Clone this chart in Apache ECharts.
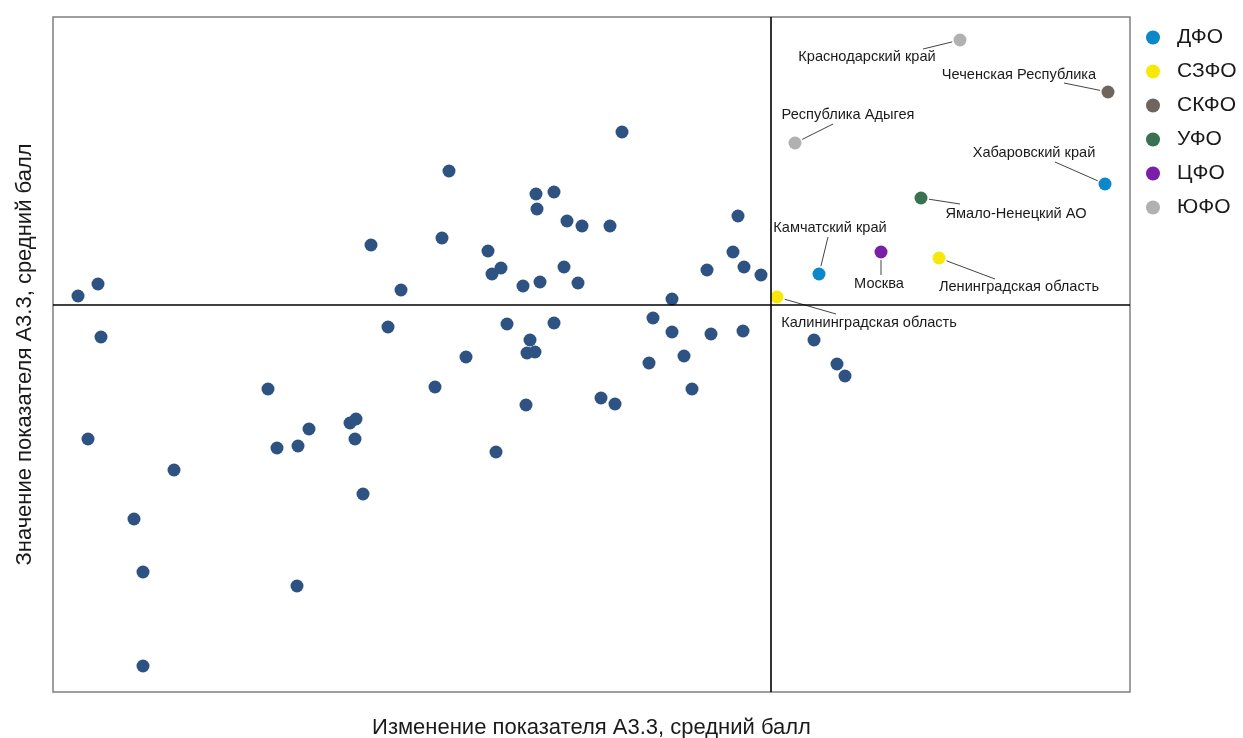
<!DOCTYPE html>
<html><head><meta charset="utf-8">
<script src="https://cdn.jsdelivr.net/npm/echarts@6/dist/echarts.min.js"></script>
<style>html,body{margin:0;padding:0;background:#fff}#c{width:1243px;height:738px}</style>
</head><body><div id="c"></div>
<script>
// Axis titles
const xTitle = 'Изменение показателя А3.3, средний балл';
const yTitle = 'Значение показателя А3.3, средний балл';
// Federal districts (legend)
const districts = ['ДФО', 'СЗФО', 'СКФО', 'УФО', 'ЦФО', 'ЮФО'];
// Highlighted regions: name, district, change (x), value (y)
const regionNames = ['Краснодарский край', 'Чеченская Республика', 'Республика Адыгея', 'Хабаровский край', 'Ямало-Ненецкий АО', 'Москва', 'Ленинградская область', 'Камчатский край', 'Калининградская область'];
const regionDistricts = ['ЮФО', 'СКФО', 'ЮФО', 'ДФО', 'УФО', 'ЦФО', 'СЗФО', 'ДФО', 'СЗФО'];
const regionX = [1.89, 3.37, 0.24, 3.34, 1.50, 1.10, 1.68, 0.48, 0.06];
const regionY = [2.65, 2.13, 1.62, 1.21, 1.07, 0.53, 0.47, 0.31, 0.08];
// Other regions (unlabelled)
const otherX = [-6.93, -6.73, -6.70, -4.00, -3.70, -3.83, -1.49, -3.22, -2.35, -2.17, -2.34, -2.04, -1.89, -1.61, -0.33, -3.29, -2.83, -2.79, -2.70, -2.48, -2.31, -2.07, -1.93, -0.38, -0.27, -0.64, -0.10, -0.99, -2.64, -2.17, -1.18, -0.99, -0.60, -0.28, -2.41, -2.44, -2.36, -3.05, -0.87, -1.22, -3.36, -0.79, -1.70, -1.56, -2.45, -2.75, 0.43, 0.66, 0.74, -5.03, -6.83, -4.62, -4.94, -4.73, -4.21, -4.15, -4.16, -4.08, -5.97, -6.37, -6.28, -4.74, -6.28];
const otherY = [0.09, 0.21, -0.32, 0.60, 0.15, -0.22, 1.73, 1.34, 1.11, 1.13, 0.96, 0.84, 0.79, 0.79, 0.89, 0.67, 0.54, 0.31, 0.37, 0.19, 0.23, 0.38, 0.22, 0.53, 0.38, 0.35, 0.30, 0.06, -0.19, -0.18, -0.13, -0.27, -0.29, -0.26, -0.35, -0.48, -0.47, -0.52, -0.51, -0.58, -0.82, -0.84, -0.93, -0.99, -1.00, -1.47, -0.35, -0.59, -0.71, -0.84, -1.34, -1.24, -1.43, -1.41, -1.18, -1.14, -1.34, -1.89, -1.65, -2.14, -2.67, -2.81, -3.61];

// styles
const districtColors = {'ДФО':'#0b88c9','СЗФО':'#f7e80a','СКФО':'#6f655f','УФО':'#3a7150','ЦФО':'#7a1fa8','ЮФО':'#b1b1b1'};
// label offsets (px, relative to the point) and leader line end offsets
const labelOffsets = {
  'Краснодарский край':[-93,17], 'Чеченская Республика':[-89,-17], 'Республика Адыгея':[53,-28],
  'Хабаровский край':[-71,-31], 'Ямало-Ненецкий АО':[95,16], 'Москва':[-2,32],
  'Ленинградская область':[80,29], 'Камчатский край':[11,-46], 'Калининградская область':[92,26]
};
const lineEnds = {
  'Краснодарский край':[-37,9], 'Чеченская Республика':[-44,-9], 'Республика Адыгея':[38,-19],
  'Хабаровский край':[-50,-22], 'Ямало-Ненецкий АО':[39,6], 'Москва':[0,23],
  'Ленинградская область':[56,21], 'Камчатский край':[9,-37], 'Калининградская область':[59,17]
};
const FONT = '"Liberation Sans", Arial, sans-serif';

const series = [{
  type:'scatter', name:'_lines', data:[], z:1, silent:true,
  markLine:{silent:true, symbol:'none', label:{show:false}, animation:false,
    lineStyle:{color:'#000', width:1.6, type:'solid'},
    data:[{xAxis:0},{yAxis:0}]}
},{
  type:'custom', name:'_leaders', z:2, silent:true,
  data: regionX.map((x,i)=>[x, regionY[i]]),
  renderItem:function(params, api){
    const p = api.coord([api.value(0), api.value(1)]);
    const e = lineEnds[regionNames[params.dataIndex]];
    const len = Math.sqrt(e[0]*e[0]+e[1]*e[1]) || 1;
    const r = 8;
    return {type:'line', shape:{x1:p[0]+e[0]/len*r, y1:p[1]+e[1]/len*r, x2:p[0]+e[0], y2:p[1]+e[1]},
      style:{stroke:'#444', lineWidth:1}};
  }
},{
  type:'scatter', name:'Прочие', z:3, symbolSize:13,
  itemStyle:{color:'#2e5383', opacity:1},
  data: otherX.map((x,i)=>[x, otherY[i]])
}];
districts.forEach(d=>{
  const data = [];
  regionNames.forEach((n,i)=>{ if(regionDistricts[i]===d) data.push({name:n, value:[regionX[i], regionY[i]]}); });
  series.push({
    type:'scatter', name:d, z:4, symbolSize:13,
    itemStyle:{color:districtColors[d], opacity:1},
    data,
    label:{show:true, position:'inside', formatter:'{b}', color:'#1a1a1a', fontSize:14.6, fontFamily:FONT},
    labelLayout:function(p){
      const o = labelOffsets[p.text] || [0,0];
      return {dx:o[0], dy:o[1]};
    }
  });
});

const chart = echarts.init(document.getElementById('c'), null, {renderer:'canvas'});
chart.setOption({
  animation:false,
  backgroundColor:'#fff',
  grid:{left:53, top:17, right:113, bottom:46, show:true, borderColor:'#7f7f7f', borderWidth:1.5, backgroundColor:'transparent', outerBoundsMode:'none', containLabel:false},
  xAxis:{type:'value', min:-7.18, max:3.59, axisLine:{show:false}, axisTick:{show:false}, axisLabel:{show:false}, splitLine:{show:false},
    name:xTitle, nameLocation:'middle', nameGap:25, nameTextStyle:{fontSize:22, color:'#1a1a1a', fontFamily:FONT}},
  yAxis:{type:'value', min:-3.87, max:2.88, axisLine:{show:false}, axisTick:{show:false}, axisLabel:{show:false}, splitLine:{show:false},
    name:yTitle, nameLocation:'middle', nameGap:17, nameTextStyle:{fontSize:22, color:'#1a1a1a', fontFamily:FONT}},
  legend:{data:districts, orient:'vertical', left:1141, top:22, icon:'circle', itemWidth:14, itemHeight:14, itemGap:13,
    textStyle:{fontSize:21, color:'#1a1a1a', fontFamily:FONT, padding:[0,0,0,12]}},
  series
});
</script></body></html>
